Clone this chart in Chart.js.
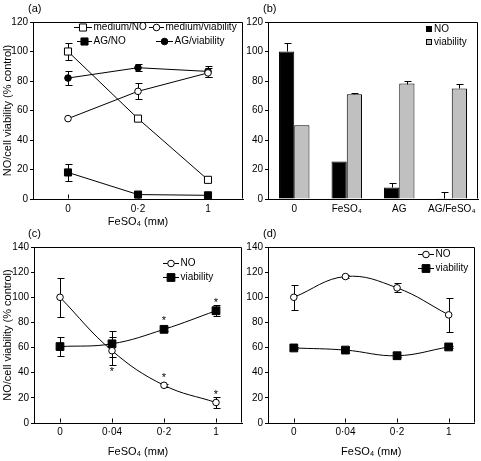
<!DOCTYPE html>
<html><head><meta charset="utf-8">
<script src="https://cdn.jsdelivr.net/npm/chart.js@4/dist/chart.umd.min.js"></script>
<style>
html,body{margin:0;padding:0;background:#fff;width:481px;height:461px;overflow:hidden}
canvas{position:absolute;left:0;top:0}
</style></head><body>
<canvas id="ca" width="481" height="461"></canvas>
<canvas id="cb" width="481" height="461"></canvas>
<canvas id="cc" width="481" height="461"></canvas>
<canvas id="cd" width="481" height="461"></canvas>
<script>
// ---------- DATA ----------
// Panel (a)
const catsA = ['0', '0·2', '1'];
const aMediumNO = [100, 54.5, 13];
const aMediumNOErr = [6, 0, 0];
const aMediumViab = [54.5, 73, 85.5];
const aMediumViabErr = [0, 5.5, 3];
const aAGNO = [18, 3, 2.5];
const aAGNOErr = [6, 0, 0];
const aAGViab = [82, 89, 86.5];
const aAGViabErr = [5, 2.3, 4];

// Panel (b)
const catsB = ['0', 'FeSO₄', 'AG', 'AG/FeSO₄'];
const bNO = [100, 25.5, 7.8, 0.5];
const bNOErr = [6, 0, 3, 4.5];
const bViab = [50, 71, 78.3, 75];
const bViabErr = [0, 1, 1.7, 3];

// Panel (c)
const catsCD = ['0', '0·04', '0·2', '1'];
const cNO = [100, 57.5, 30, 16.3];
const cNOErr = [15.5, 11, 1, 4.5];
const cNOStar = [0, -1, 1, 1];
const cViab = [60.8, 63, 74.5, 89.3];
const cViabErr = [7.5, 10.5, 1.5, 4.5];
const cViabStar = [0, 0, 1, 1];

// Panel (d)
const dNO = [100, 116.5, 107.5, 86];
const dNOErr = [10, 1.5, 3.5, 13.5];
const dViab = [59.7, 58, 53.5, 60.5];
const dViabErr = [0.8, 2.5, 0.8, 0.8];

// ---------- STYLE / LAYOUT ----------
const W = 481, H = 461;
const FONT = "'Liberation Sans', Arial, 'DejaVu Sans', sans-serif";
const FS_TICK = 10;
const FS_LEG = 10;
const FS_TITLE = 11;
const YTITLE = 'NO/cell viability (% control)';
const XTITLE = 'FeSO₄ (mᴍ)';

function scalesFor(cfg) {
  return {
    x: {
      type: 'category', offset: true,
      ticks: {color: '#000', font: {family: FONT, size: FS_TICK}, padding: cfg.xpad, maxRotation: 0, autoSkip: false},
      grid: {display: false, drawTicks: false},
      border: {display: true, color: '#000', width: 1},
      title: cfg.xtitle ? {display: true, text: XTITLE, color: '#000', font: {family: FONT, size: FS_TITLE, lineHeight: 1.2}, padding: {top: 0, bottom: cfg.xtpad}} : {display: false},
      afterFit: s => { s.height = cfg.xh; }
    },
    y: {
      min: 0, max: cfg.ymax,
      ticks: {stepSize: 20, color: '#000', font: {family: FONT, size: FS_TICK}, padding: 2},
      grid: {display: true, drawOnChartArea: false, drawTicks: true, tickLength: 3, color: '#000'},
      border: {display: true, color: '#000', width: 1},
      title: cfg.ytitle ? {display: true, text: YTITLE, color: '#000', font: {family: FONT, size: FS_TITLE, lineHeight: 1.2}, padding: {top: 1.6, bottom: 0}} : {display: false},
      afterFit: s => { s.width = cfg.yw; }
    }
  };
}

function panelPlugin(cfg) {
  return {
    id: 'panel_' + cfg.label,
    beforeDatasetsDraw(chart) {
      if (cfg.barErrors) return;
      drawErrors(chart, false);
    },
    afterDatasetsDraw(chart) {
      if (cfg.barErrors) drawErrors(chart, true);
    },
    afterDraw(chart) {
      const ctx = chart.ctx, ca = chart.chartArea;
      ctx.save();
      ctx.strokeStyle = '#000'; ctx.lineWidth = 1;
      const L = Math.round(ca.left) + 0.5, R = Math.round(ca.right) - 0.5;
      const T = Math.round(ca.top) + 0.5, B = Math.round(ca.bottom) - 0.5;
      ctx.beginPath();
      ctx.moveTo(L, T); ctx.lineTo(R, T); ctx.lineTo(R, B);
      ctx.stroke();
      // inward x ticks
      if (cfg.inTicks) {
        const xs = chart.scales.x;
        ctx.beginPath();
        for (let i = 0; i < xs.ticks.length; i++) {
          const px = Math.round(xs.getPixelForTick(i)) + 0.5;
          ctx.moveTo(px, B); ctx.lineTo(px, B - 4);
        }
        ctx.stroke();
      }
      // panel label
      ctx.fillStyle = '#000';
      ctx.font = FS_TITLE + 'px ' + FONT;
      ctx.textBaseline = 'middle'; ctx.textAlign = 'left';
      ctx.fillText(cfg.label, cfg.lx, cfg.ly);
      // legend
      ctx.font = FS_LEG + 'px ' + FONT;
      cfg.legend.forEach(it => {
        const ds = chart.data.datasets[it.ds];
        const y = it.y;
        if (it.kind === 'line') {
          ctx.strokeStyle = '#000';
          ctx.beginPath();
          ctx.moveTo(it.x, Math.round(y) + 0.5); ctx.lineTo(it.x + it.len, Math.round(y) + 0.5);
          ctx.stroke();
          ctx.fillStyle = ds.pointBackgroundColor;
          Chart.helpers.drawPoint(ctx, {pointStyle: ds.pointStyle, radius: ds.pointRadius, borderWidth: 1, rotation: 0}, it.x + it.len / 2, Math.round(y) + 0.5);
          ctx.fillStyle = '#000';
          ctx.fillText(ds.label, it.x + it.len + 1.5, y);
        } else {
          ctx.fillStyle = ds.backgroundColor;
          ctx.fillRect(it.x + 0.5, Math.round(y) - 2.5, 5, 5);
          ctx.strokeRect(it.x + 0.5, Math.round(y) - 2.5, 5, 5);
          ctx.fillStyle = '#000';
          ctx.fillText(ds.label, it.x + 8, y);
        }
      });
      // asterisks
      ctx.font = FS_TITLE + 'px ' + FONT;
      chart.data.datasets.forEach((ds, di) => {
        if (!ds.stars) return;
        const meta = chart.getDatasetMeta(di);
        const ys = chart.scales.y;
        ds.stars.forEach((s, i) => {
          if (!s) return;
          const px = meta.data[i].x;
          const v = ds.data[i], e = ds.errors ? ds.errors[i] : 0;
          let py;
          if (s > 0) py = ys.getPixelForValue(v + e) - (e > 1.5 ? 4 : 8);
          else py = ys.getPixelForValue(v - e) + 5;
          ctx.textAlign = 'center'; ctx.textBaseline = 'middle';
          ctx.fillText('*', px, py + 2);
        });
      });
      ctx.restore();
    }
  };
}

function drawErrors(chart, upOnly) {
  const ctx = chart.ctx, ys = chart.scales.y;
  ctx.save();
  ctx.strokeStyle = '#000'; ctx.lineWidth = 1;
  chart.data.datasets.forEach((ds, di) => {
    if (!ds.errors) return;
    const meta = chart.getDatasetMeta(di);
    ds.errors.forEach((e, i) => {
      if (!e) return;
      const px = Math.round(meta.data[i].x) + 0.5;
      const v = ds.data[i];
      const top = Math.round(ys.getPixelForValue(v + e)) + 0.5;
      const bot = Math.round(ys.getPixelForValue(upOnly ? v : v - e)) + 0.5;
      ctx.beginPath();
      ctx.moveTo(px, top); ctx.lineTo(px, bot);
      ctx.moveTo(px - 3, top); ctx.lineTo(px + 4, top);
      if (!upOnly) { ctx.moveTo(px - 3, bot); ctx.lineTo(px + 4, bot); }
      ctx.stroke();
    });
  });
  ctx.restore();
}

function lineDs(label, data, errors, style, filled, r, tension, stars) {
  return {
    label, data, errors, stars,
    borderColor: '#000', borderWidth: 1, tension,
    pointStyle: style, pointRadius: r, pointHoverRadius: r,
    pointBackgroundColor: filled ? '#000' : '#fff', pointBorderColor: '#000', pointBorderWidth: 1,
    fill: false
  };
}

function makeChart(id, type, labels, datasets, cfg) {
  const a = cfg.area;
  const options = {
    responsive: false, animation: false, devicePixelRatio: 1,
    events: [],
    layout: {padding: {left: a.left - cfg.yw, top: a.top, right: W - a.right, bottom: H - a.bottom - cfg.xh}},
    plugins: {legend: {display: false}, tooltip: {enabled: false}, title: {display: false}},
    scales: scalesFor(cfg)
  };
  return new Chart(document.getElementById(id), {
    type, data: {labels, datasets}, options, plugins: [panelPlugin(cfg)]
  });
}

// ---------- (a) ----------
makeChart('ca', 'line', catsA, [
  lineDs('medium/NO', aMediumNO, aMediumNOErr, 'rect', false, 5, 0),
  lineDs('medium/viability', aMediumViab, aMediumViabErr, 'circle', false, 3.3, 0),
  lineDs('AG/NO', aAGNO, aAGNOErr, 'rect', true, 5, 0),
  lineDs('AG/viability', aAGViab, aAGViabErr, 'circle', true, 3.3, 0)
], {
  label: '(a)', lx: 28, ly: 9, area: {left: 33, right: 243, top: 22, bottom: 199},
  yw: 33, xh: 30, ymax: 120, xpad: 4, xtpad: 0, xtitle: true, ytitle: true, inTicks: true,
  legend: [
    {ds: 0, kind: 'line', x: 74, y: 27, len: 18},
    {ds: 1, kind: 'line', x: 149, y: 27, len: 15},
    {ds: 2, kind: 'line', x: 77, y: 41, len: 15},
    {ds: 3, kind: 'line', x: 156, y: 41, len: 17}
  ]
});

// ---------- (b) ----------
makeChart('cb', 'bar', catsB, [
  {label: 'NO', data: bNO, errors: bNOErr, backgroundColor: '#000', borderColor: '#000', borderWidth: 1, categoryPercentage: 0.58, barPercentage: 1},
  {label: 'viability', data: bViab, errors: bViabErr, backgroundColor: '#c0c0c0', borderColor: '#000', borderWidth: 1, categoryPercentage: 0.58, barPercentage: 1}
], {
  label: '(b)', lx: 263, ly: 9, area: {left: 268, right: 478, top: 22, bottom: 199},
  yw: 23, xh: 30, ymax: 120, xpad: 4, xtpad: 0, xtitle: false, ytitle: false, inTicks: false, barErrors: true,
  legend: [
    {ds: 0, kind: 'box', x: 426, y: 29},
    {ds: 1, kind: 'box', x: 426, y: 42}
  ]
});

// ---------- (c) ----------
makeChart('cc', 'line', catsCD, [
  lineDs('NO', cNO, cNOErr, 'circle', false, 3.3, 0.4, cNOStar),
  lineDs('viability', cViab, cViabErr, 'rect', true, 5.5, 0.4, cViabStar)
], {
  label: '(c)', lx: 28, ly: 234, area: {left: 34, right: 242, top: 247, bottom: 423},
  yw: 34, xh: 37, ymax: 140, xpad: 3, xtpad: 1.4, xtitle: true, ytitle: true, inTicks: true,
  legend: [
    {ds: 0, kind: 'line', x: 163, y: 263, len: 16},
    {ds: 1, kind: 'line', x: 163, y: 277, len: 16}
  ]
});

// ---------- (d) ----------
makeChart('cd', 'line', catsCD, [
  lineDs('NO', dNO, dNOErr, 'circle', false, 3.3, 0.4),
  lineDs('viability', dViab, dViabErr, 'rect', true, 5.5, 0.4)
], {
  label: '(d)', lx: 263, ly: 234, area: {left: 268, right: 478, top: 247, bottom: 423},
  yw: 23, xh: 37, ymax: 140, xpad: 3, xtpad: 1.4, xtitle: true, ytitle: false, inTicks: true,
  legend: [
    {ds: 0, kind: 'line', x: 418, y: 254, len: 16},
    {ds: 1, kind: 'line', x: 418, y: 268, len: 16}
  ]
});
</script>
</body></html>
